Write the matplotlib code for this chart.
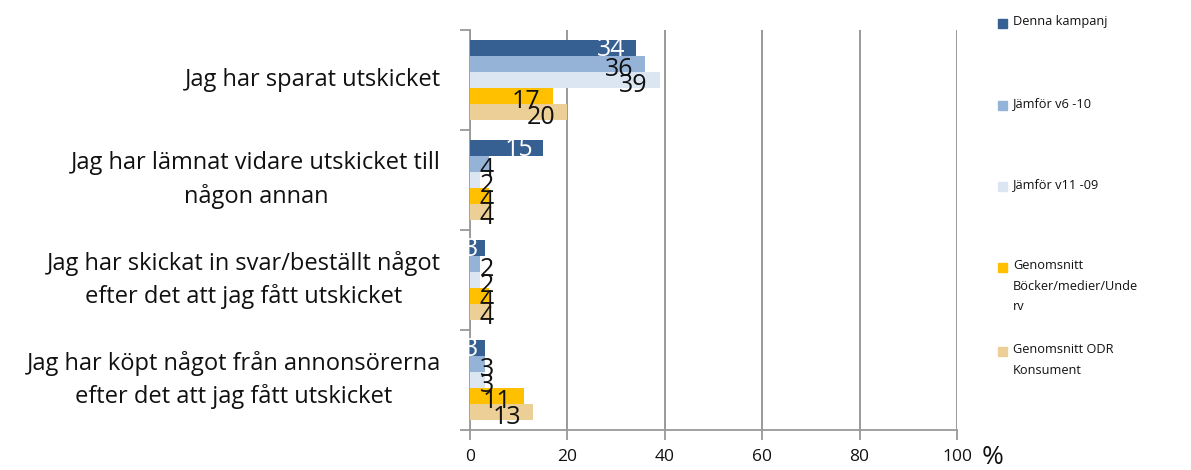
import matplotlib
matplotlib.use('Agg')
import matplotlib.pyplot as plt
import numpy as np
from matplotlib.patches import Rectangle

categories = [
    'Jag har sparat utskicket',
    'Jag har lämnat vidare utskicket till\nnågon annan',
    'Jag har skickat in svar/beställt något\nefter det att jag fått utskicket',
    'Jag har köpt något från annonsörerna\nefter det att jag fått utskicket',
]
series = ['Denna kampanj', 'Jämför v6 -10', 'Jämför v11 -09',
          'Genomsnitt\nBöcker/medier/Unde\nrv', 'Genomsnitt ODR\nKonsument']
denna = [34, 15, 3, 3]
v6_10 = [36, 4, 2, 3]
v11_09 = [39, 2, 2, 3]
bocker = [17, 4, 4, 11]
odr = [20, 4, 4, 13]
values = [denna, v6_10, v11_09, bocker, odr]
colors = ['#376092', '#95b3d7', '#dce6f2', '#ffc000', '#ebcf96']
xticks = [0, 20, 40, 60, 80, 100]

plt.rcParams['font.family'] = ['Open Sans', 'DejaVu Sans']

fig = plt.figure(figsize=(11.91, 4.70), dpi=100)
ax = fig.add_axes([470 / 1191, 1 - 430 / 470, 487 / 1191, 400 / 470])

bh = 0.16
y0 = np.arange(len(categories))
for i, (vals, col) in enumerate(zip(values, colors)):
    ys = y0 - 0.32 + i * bh
    ax.barh(ys, vals, height=bh, color=col, zorder=3)
    for y, v in zip(ys, vals):
        if i == 0:
            x = max(v - 2.0, 1.7)
            ax.text(x, y + 0.02, str(v), ha='right', va='center', fontsize=18,
                    color='white', zorder=4)
        elif v < 8:
            ax.text(2.0, y + 0.05, str(v), ha='left', va='center', fontsize=18,
                    color='#111111', zorder=4)
        else:
            ax.text(v - 2.5, y + 0.05, str(v), ha='right', va='center',
                    fontsize=18, color='#111111', zorder=4)

ax.set_xlim(0, 100)
ax.set_ylim(len(categories) - 0.5, -0.5)
ax.set_xticks(xticks)
ax.set_xticklabels([str(t) for t in xticks], fontsize=12.5, color='#111111')
ax.tick_params(axis='x', length=7, width=1.3, color='#999999', pad=7)
ax.grid(axis='x', color='#999999', linewidth=1.4, zorder=0)

ax.set_yticks(np.arange(len(categories) + 1) - 0.5)
ax.set_yticklabels([])
ax.tick_params(axis='y', length=7, width=1.3, color='#999999')
for y, lab in zip(y0, categories):
    ax.text(-6, y, lab, ha='right', va='center', multialignment='center',
            fontsize=17, color='#111111', linespacing=1.45)

for s in ['top', 'right']:
    ax.spines[s].set_visible(False)
for s in ['left', 'bottom']:
    ax.spines[s].set_color('#999999')
    ax.spines[s].set_linewidth(1.3)

fig.text(982 / 1191, 1 - 458 / 470, '%', fontsize=19, color='#111111',
         va='center')

# legend drawn by hand to match the tall spacing
leg_y = [23, 105, 186, 267, 351]
for lab, col, yy in zip(series, colors, leg_y):
    fig.patches.append(Rectangle((998 / 1191, 1 - (yy + 5) / 470), 9 / 1191,
                                 9 / 470, transform=fig.transFigure,
                                 color=col, zorder=3))
    fig.text(1013 / 1191, 1 - (yy - 8) / 470, lab, fontsize=9.2, va='top',
             ha='left', color='#111111', linespacing=1.75)

fig.savefig('out.png', dpi=100)
